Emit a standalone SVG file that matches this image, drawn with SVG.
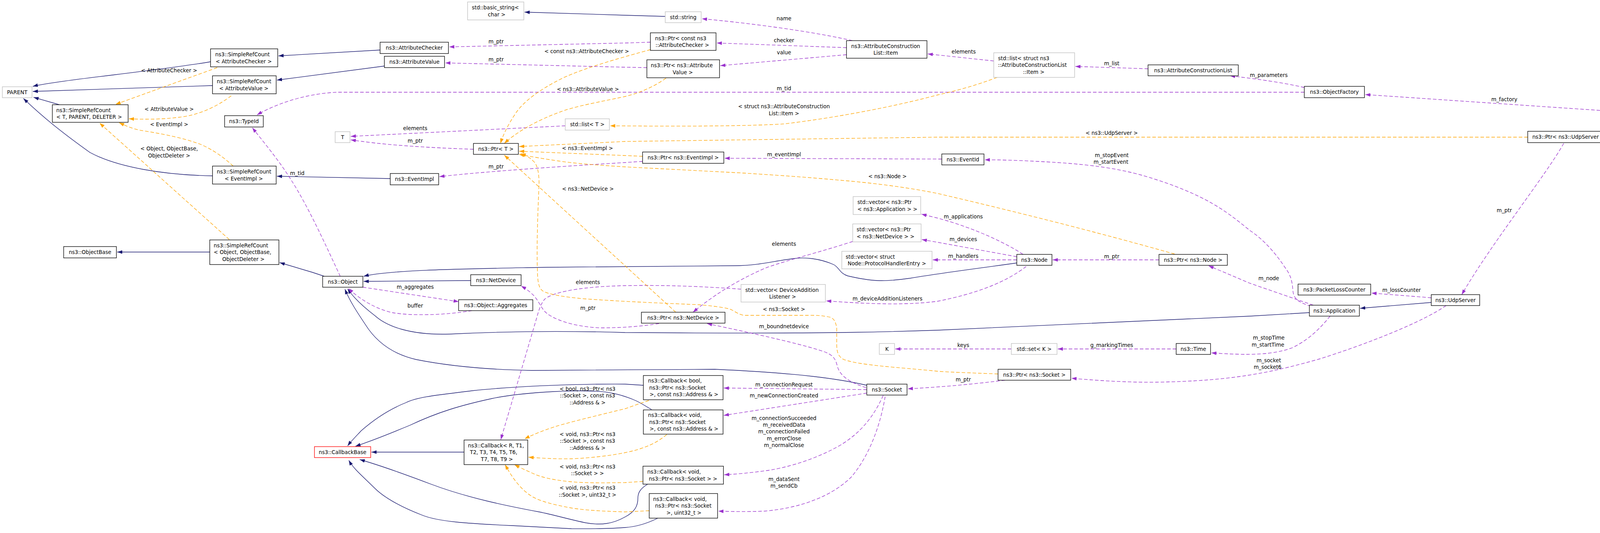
<svg xmlns="http://www.w3.org/2000/svg" width="4411" height="1364" viewBox="0 0 4411 1364">
<style>
text{font-family:"DejaVu Sans","Liberation Sans",sans-serif;font-size:13.33px;fill:#000}
.n rect{fill:#fff;stroke:#000;stroke-width:1.33}
.g rect{stroke:#bfbfbf}
.r rect{stroke:#ff0000}
.f rect{fill:#bfbfbf}
.c{text-anchor:middle}
#edges path{fill:none;stroke-width:1.33}
.inh{stroke:#191970}
.use{stroke:#9a32cd;stroke-dasharray:9,5}
.tpl{stroke:#ffa500;stroke-dasharray:9,5}
#edges path.inh{marker-end:url(#ab)}
#edges path.use{marker-end:url(#ap)}
#edges path.tpl{marker-end:url(#ao)}
</style>
<defs>
<marker id="ab" markerUnits="userSpaceOnUse" markerWidth="14" markerHeight="10" viewBox="0 0 14 10" refX="13" refY="5" orient="auto"><path d="M0,0.5 L13,5 L0,9.5 Z" fill="#191970"/></marker>
<marker id="ap" markerUnits="userSpaceOnUse" markerWidth="14" markerHeight="10" viewBox="0 0 14 10" refX="13" refY="5" orient="auto"><path d="M0,0.5 L13,5 L0,9.5 Z" fill="#9a32cd"/></marker>
<marker id="ao" markerUnits="userSpaceOnUse" markerWidth="14" markerHeight="10" viewBox="0 0 14 10" refX="13" refY="5" orient="auto"><path d="M0,0.5 L13,5 L0,9.5 Z" fill="#ffa500"/></marker>
</defs>
<rect width="4411" height="1364" fill="#fff"/>
<g id="edges">
<path class="inh" d="M539,158 C400,182 150,205 84,221"/>
<path class="inh" d="M544,219 L84,234"/>
<path class="inh" d="M152,268 L86,249"/>
<path class="inh" d="M544,450 C420,448 300,428 230,390 C160,340 110,300 60,252"/>
<path class="inh" d="M537,645 L300,645"/>
<path class="inh" d="M973,128 L713,143"/>
<path class="inh" d="M984,169 L709,205"/>
<path class="inh" d="M999,457 L709,451"/>
<path class="inh" d="M830,707 L800,697 L716,672"/>
<path class="inh" d="M1205,718 L931,720"/>
<path class="inh" d="M2603,673 C2480,690 2400,700 2330,712 C2260,722 2230,720 2170,706 C2150,700 2148,684 2134,677 C2100,662 2060,657 2030,662 C1980,668 1940,680 1880,680 L1400,684 C1200,688 1000,690 931,707"/>
<path class="inh" d="M3352,800 L3200,809 L2400,845 C2200,852 2000,854 1600,851 C1400,845 1250,850 1150,855 C1050,858 990,835 960,808 C930,785 905,762 890,739"/>
<path class="inh" d="M2219,986 C2150,970 2050,955 1830,945 L1361,948 C1250,946 1150,937 1065,920 C1000,905 960,870 935,830 C915,800 895,770 883,740"/>
<path class="inh" d="M1188,1157 L951,1157"/>
<path class="inh" d="M1647,986 L1600,983 C1450,982 1300,990 1208,1000 C1130,1010 1070,1015 1040,1030 C990,1050 950,1080 925,1102 C910,1118 898,1130 890,1141"/>
<path class="inh" d="M1668,1048 C1650,1038 1640,1030 1620,1022 C1590,1010 1560,1002 1520,1001 C1450,998 1330,1005 1259,1020 C1180,1037 1120,1055 1050,1088 C990,1113 940,1132 910,1142"/>
<path class="inh" d="M1658,1239 C1640,1250 1633,1260 1633,1275 C1633,1295 1625,1310 1600,1323 C1570,1340 1540,1345 1500,1338 C1460,1330 1420,1318 1380,1310 C1300,1295 1200,1275 1106,1240 C1040,1215 970,1190 921,1176"/>
<path class="inh" d="M1684,1326 C1660,1338 1630,1348 1600,1350 C1550,1354 1500,1353 1463,1353 C1400,1350 1350,1347 1310,1345 C1200,1340 1120,1335 1080,1318 C1020,1295 980,1270 960,1250 C930,1220 905,1200 893,1178"/>
<path class="inh" d="M3664,774 L3482,789"/>
<path class="inh" d="M1703,42 L1600,39 L1343,31"/>
<path class="use" d="M1665,108 L1600,110 L1150,120"/>
<path class="use" d="M1656,173 L1600,172 L1140,161"/>
<path class="use" d="M2182,104 C2100,85 1950,62 1797,48"/>
<path class="use" d="M2167,122 L1835,110"/>
<path class="use" d="M2167,140 L1844,168"/>
<path class="use" d="M2544,156 L2375,138"/>
<path class="use" d="M2939,176 L2753,170"/>
<path class="use" d="M3339,224 C3280,210 3200,200 3149,194"/>
<path class="use" d="M3339,236 L866,236 C800,238 720,258 658,294"/>
<path class="use" d="M4236,292 L3495,242"/>
<path class="use" d="M4231,313 L4102,337"/>
<path class="use" d="M4003,367 C3960,445 3820,620 3742,754"/>
<path class="use" d="M3664,762 L3511,750"/>
<path class="use" d="M3702,782 C3640,825 3500,880 3380,918 C3250,955 3150,975 2961,978 C2880,979 2800,973 2743,968"/>
<path class="use" d="M3405,809 C3380,840 3350,870 3308,890 C3260,908 3200,910 3101,903"/>
<path class="use" d="M3362,781 L3200,725 L3094,680"/>
<path class="use" d="M3356,784 C3330,775 3312,768 3310,745 C3308,720 3305,705 3290,685 C3260,640 3230,610 3200,590 C3150,550 3100,505 2961,460 C2880,433 2800,420 2655,413 C2600,410 2560,409 2521,409"/>
<path class="use" d="M2967,665 L2695,665"/>
<path class="use" d="M2619,651 C2580,625 2500,585 2400,558 L2359,548"/>
<path class="use" d="M2603,657 L2400,620 L2360,613"/>
<path class="use" d="M2603,665 L2388,665"/>
<path class="use" d="M2627,682 C2590,710 2530,745 2400,771 C2330,780 2250,780 2115,770"/>
<path class="use" d="M2183,618 C2100,645 2000,670 1957,687 C1900,712 1840,745 1774,799"/>
<path class="use" d="M1687,828 C1650,834 1600,839 1540,839 C1490,838 1430,825 1400,802 C1385,790 1380,770 1365,755 C1355,745 1345,738 1334,732"/>
<path class="use" d="M2217,992 C2180,980 2150,965 2143,935 C2138,915 2130,908 2110,900 C2050,880 1950,858 1810,828"/>
<path class="use" d="M2573,973 C2500,982 2420,990 2324,995"/>
<path class="use" d="M2219,997 L1853,993"/>
<path class="use" d="M2219,1006 L1853,1063"/>
<path class="use" d="M2261,1012 C2235,1070 2200,1110 2150,1140 C2080,1180 2000,1200 1957,1205 C1920,1210 1890,1213 1854,1215"/>
<path class="use" d="M2266,1015 C2255,1080 2230,1160 2180,1220 C2130,1270 2050,1300 1957,1308 C1910,1310 1870,1309 1839,1308"/>
<path class="use" d="M929,735 L1174,772"/>
<path class="use" d="M1208,795 C1150,805 1060,810 1004,800 C960,790 920,765 892,738"/>
<path class="use" d="M871,707 C835,630 790,530 745,460 C715,412 680,370 646,327"/>
<path class="use" d="M1212,382 C1100,378 1000,372 928,362 L898,358"/>
<path class="use" d="M1447,322 L898,349"/>
<path class="use" d="M1645,413 L1600,416 C1450,425 1250,438 1125,452"/>
<path class="use" d="M2411,407 L1855,405"/>
<path class="use" d="M1897,740 C1800,733 1700,729 1600,731 C1500,733 1420,745 1395,765 C1382,780 1378,800 1372,820 L1282,1125"/>
<path class="use" d="M2589,893 L2292,893"/>
<path class="use" d="M3011,893 L2708,893"/>
<path class="tpl" d="M556,173 L296,267"/>
<path class="tpl" d="M592,245 C560,270 510,295 459,300 C420,305 380,306 330,304"/>
<path class="tpl" d="M597,425 C570,400 540,380 510,368 C460,350 400,340 357,333 C335,328 318,320 305,314"/>
<path class="tpl" d="M587,613 L255,315"/>
<path class="tpl" d="M1665,127 C1600,145 1500,172 1440,200 C1380,230 1340,260 1320,290 C1300,320 1288,345 1281,367"/>
<path class="tpl" d="M1705,200 C1670,225 1630,240 1600,247 C1530,262 1470,272 1430,288 C1370,310 1320,340 1291,367"/>
<path class="tpl" d="M2553,198 C2500,218 2450,232 2400,243 C2300,270 2150,300 2008,317 C1900,324 1700,323 1562,322"/>
<path class="tpl" d="M3911,351 L2400,351 L1600,362 L1329,375"/>
<path class="tpl" d="M1645,400 L1600,398 L1329,387"/>
<path class="tpl" d="M3007,650 C2900,620 2700,565 2400,495 C2300,475 2200,465 2136,460 C2050,452 1950,446 1906,443 L1600,427 C1520,422 1470,418 1430,412 C1390,406 1360,401 1329,395"/>
<path class="tpl" d="M1730,799 L1291,397"/>
<path class="tpl" d="M2555,957 C2480,954 2420,952 2400,950 C2300,940 2200,935 2160,920 C2145,912 2142,900 2142,880 L2142,840 C2140,825 2135,815 2126,812 C2100,806 2080,807 2059,807 L1906,807 C1890,806 1878,793 1865,790 C1840,784 1800,781 1794,780 C1700,776 1600,772 1500,765 C1440,760 1405,753 1390,745 C1380,738 1377,725 1376,700 C1373,620 1378,520 1380,470 C1380,440 1375,420 1365,412 C1355,402 1345,397 1333,393"/>
<path class="tpl" d="M1661,1025 C1630,1035 1610,1043 1600,1046 C1530,1063 1460,1080 1420,1092 C1390,1102 1365,1112 1343,1123"/>
<path class="tpl" d="M1707,1112 C1685,1130 1665,1140 1640,1148 C1600,1162 1520,1172 1463,1174 C1420,1175 1380,1172 1353,1170"/>
<path class="tpl" d="M1646,1232 L1600,1235 C1540,1236 1500,1236 1463,1233 C1420,1229 1385,1222 1361,1210 C1345,1203 1330,1196 1317,1189"/>
<path class="tpl" d="M1662,1307 L1600,1310 C1540,1308 1500,1306 1463,1300 C1420,1292 1385,1284 1361,1270 C1330,1250 1310,1220 1293,1189"/>
<g class="c">
<text x="433" y="185">&lt; AttributeChecker &gt;</text>
<text x="433" y="284">&lt; AttributeValue &gt;</text>
<text x="433" y="323">&lt; EventImpl &gt;</text>
<text x="433" y="385">&lt; Object, ObjectBase,</text>
<text x="433" y="403">ObjectDeleter &gt;</text>
<text x="761" y="448">m_tid</text>
<text x="1270" y="111">m_ptr</text>
<text x="1502" y="136">&lt; const ns3::AttributeChecker &gt;</text>
<text x="1270" y="157">m_ptr</text>
<text x="1505" y="233">&lt; ns3::AttributeValue &gt;</text>
<text x="1063" y="333">elements</text>
<text x="1063" y="365">m_ptr</text>
<text x="1504" y="384">&lt; ns3::EventImpl &gt;</text>
<text x="1270" y="431">m_ptr</text>
<text x="1505" y="488">&lt; ns3::NetDevice &gt;</text>
<text x="1063" y="739">m_aggregates</text>
<text x="1063" y="787">buffer</text>
<text x="1505" y="727">elements</text>
<text x="1505" y="793">m_ptr</text>
<text x="1504" y="1000">&lt; bool, ns3::Ptr&lt; ns3</text>
<text x="1504" y="1017">::Socket &gt;, const ns3</text>
<text x="1504" y="1035">::Address &amp; &gt;</text>
<text x="1504" y="1116">&lt; void, ns3::Ptr&lt; ns3</text>
<text x="1504" y="1133">::Socket &gt;, const ns3</text>
<text x="1504" y="1151">::Address &amp; &gt;</text>
<text x="1504" y="1199">&lt; void, ns3::Ptr&lt; ns3</text>
<text x="1504" y="1216">::Socket &gt; &gt;</text>
<text x="1504" y="1253">&lt; void, ns3::Ptr&lt; ns3</text>
<text x="1504" y="1271">::Socket &gt;, uint32_t &gt;</text>
<text x="2007" y="52">name</text>
<text x="2007" y="108">checker</text>
<text x="2007" y="139">value</text>
<text x="2007" y="231">m_tid</text>
<text x="2007" y="277">&lt; struct ns3::AttributeConstruction</text>
<text x="2007" y="295">List::Item &gt;</text>
<text x="2007" y="400">m_eventImpl</text>
<text x="2272" y="456">&lt; ns3::Node &gt;</text>
<text x="2007" y="629">elements</text>
<text x="2272" y="769">m_deviceAdditionListeners</text>
<text x="2007" y="796">&lt; ns3::Socket &gt;</text>
<text x="2007" y="840">m_boundnetdevice</text>
<text x="2007" y="989">m_connectionRequest</text>
<text x="2007" y="1017">m_newConnectionCreated</text>
<text x="2007" y="1075">m_connectionSucceeded</text>
<text x="2007" y="1092">m_receivedData</text>
<text x="2007" y="1109">m_connectionFailed</text>
<text x="2007" y="1127">m_errorClose</text>
<text x="2007" y="1144">m_normalClose</text>
<text x="2007" y="1231">m_dataSent</text>
<text x="2007" y="1248">m_sendCb</text>
<text x="2467" y="137">elements</text>
<text x="2846" y="167">m_list</text>
<text x="2846" y="345">&lt; ns3::UdpServer &gt;</text>
<text x="2846" y="402">m_stopEvent</text>
<text x="2844" y="419">m_startEvent</text>
<text x="2466" y="559">m_applications</text>
<text x="2466" y="617">m_devices</text>
<text x="2466" y="660">m_handlers</text>
<text x="2846" y="661">m_ptr</text>
<text x="2466" y="888">keys</text>
<text x="2846" y="888">g_markingTimes</text>
<text x="2466" y="976">m_ptr</text>
<text x="3248" y="197">m_parameters</text>
<text x="3851" y="259">m_factory</text>
<text x="4179" y="313">m_server</text>
<text x="3851" y="543">m_ptr</text>
<text x="3248" y="717">m_node</text>
<text x="3588" y="747">m_lossCounter</text>
<text x="3248" y="869">m_stopTime</text>
<text x="3246" y="887">m_startTime</text>
<text x="3248" y="927">m_socket</text>
<text x="3245" y="944">m_socket6</text>
</g>
</g>
<g id="PARENT" class="n g"><rect x="6" y="222" width="76" height="28"/><text class="c" x="44" y="241">PARENT</text></g>
<g id="SRC_AttributeChecker" class="n"><rect x="539" y="125" width="172" height="46"/><text x="551" y="144">ns3::SimpleRefCount</text><text x="552" y="161.5">&lt; AttributeChecker &gt;</text></g>
<g id="SRC_AttributeValue" class="n"><rect x="544" y="194" width="163" height="46"/><text x="555" y="213">ns3::SimpleRefCount</text><text x="561" y="230.5">&lt; AttributeValue &gt;</text></g>
<g id="SRC_T_PARENT_DELETER" class="n"><rect x="134" y="268" width="194" height="45"/><text x="144" y="286.5">ns3::SimpleRefCount</text><text x="144" y="304">&lt; T, PARENT, DELETER &gt;</text></g>
<g id="TypeId" class="n"><rect x="575" y="296" width="99" height="29"/><text class="c" x="624.5" y="315">ns3::TypeId</text></g>
<g id="SRC_EventImpl" class="n"><rect x="544" y="425" width="163" height="46"/><text x="555" y="444">ns3::SimpleRefCount</text><text x="575" y="461.5">&lt; EventImpl &gt;</text></g>
<g id="ObjectBase" class="n"><rect x="163" y="631" width="135" height="29"/><text class="c" x="230.5" y="650">ns3::ObjectBase</text></g>
<g id="SRC_Object" class="n"><rect x="537" y="614" width="177" height="63"/><text x="547" y="632.7">ns3::SimpleRefCount</text><text x="547" y="650.2">&lt; Object, ObjectBase,</text><text x="569" y="667.7">ObjectDeleter &gt;</text></g>
<g id="basic_string" class="n g"><rect x="1197" y="5" width="144" height="46"/><text x="1208" y="24">std::basic_string&lt;</text><text x="1249" y="41.5">char &gt;</text></g>
<g id="AttributeChecker" class="n"><rect x="973" y="108" width="175" height="29"/><text class="c" x="1060.5" y="127">ns3::AttributeChecker</text></g>
<g id="AttributeValue" class="n"><rect x="984" y="144" width="154" height="29"/><text class="c" x="1061" y="163">ns3::AttributeValue</text></g>
<g id="T" class="n g"><rect x="858" y="337" width="38" height="28"/><text class="c" x="877" y="355.5">T</text></g>
<g id="PtrT" class="n"><rect x="1212" y="367" width="115" height="28"/><text class="c" x="1269.5" y="385.5">ns3::Ptr&lt; T &gt;</text></g>
<g id="listT" class="n g"><rect x="1447" y="304" width="113" height="29"/><text class="c" x="1503.5" y="323">std::list&lt; T &gt;</text></g>
<g id="EventImpl" class="n"><rect x="999" y="444" width="124" height="29"/><text class="c" x="1061" y="463">ns3::EventImpl</text></g>
<g id="Object" class="n"><rect x="826" y="707" width="103" height="28"/><text class="c" x="877.5" y="725.5">ns3::Object</text></g>
<g id="NetDevice" class="n"><rect x="1205" y="703" width="129" height="28"/><text class="c" x="1269.5" y="721.5">ns3::NetDevice</text></g>
<g id="Aggregates" class="n"><rect x="1174" y="767" width="190" height="28"/><text class="c" x="1269" y="785.5">ns3::Object::Aggregates</text></g>
<g id="CallbackBase" class="n r"><rect x="805" y="1143" width="144" height="28"/><text class="c" x="877" y="1161.5">ns3::CallbackBase</text></g>
<g id="CallbackR" class="n"><rect x="1188" y="1126" width="163" height="63"/><text x="1198" y="1144.7">ns3::Callback&lt; R, T1,</text><text x="1203" y="1162.2">T2, T3, T4, T5, T6,</text><text x="1231" y="1179.7">T7, T8, T9 &gt;</text></g>
<g id="string" class="n g"><rect x="1703" y="30" width="92" height="28"/><text class="c" x="1749" y="48.5">std::string</text></g>
<g id="PtrConstAC" class="n"><rect x="1665" y="84" width="168" height="45"/><text x="1677" y="102.5">ns3::Ptr&lt; const ns3</text><text x="1678" y="120">::AttributeChecker &gt;</text></g>
<g id="PtrAV" class="n"><rect x="1656" y="153" width="186" height="46"/><text x="1666" y="172">ns3::Ptr&lt; ns3::Attribute</text><text x="1722" y="189.5">Value &gt;</text></g>
<g id="Item" class="n"><rect x="2167" y="104" width="206" height="45"/><text x="2179" y="122.5">ns3::AttributeConstruction</text><text x="2236" y="140">List::Item</text></g>
<g id="PtrEventImpl" class="n"><rect x="1645" y="389" width="208" height="29"/><text class="c" x="1749" y="408">ns3::Ptr&lt; ns3::EventImpl &gt;</text></g>
<g id="vecApp" class="n g"><rect x="2184" y="503" width="173" height="46"/><text x="2195" y="522">std::vector&lt; ns3::Ptr</text><text x="2195" y="539.5">&lt; ns3::Application &gt; &gt;</text></g>
<g id="vecNetDevice" class="n g"><rect x="2183" y="573" width="175" height="46"/><text x="2193" y="592">std::vector&lt; ns3::Ptr</text><text x="2193" y="609.5">&lt; ns3::NetDevice &gt; &gt;</text></g>
<g id="vecPHE" class="n g"><rect x="2155" y="643" width="231" height="45"/><text x="2165" y="661.5">std::vector&lt; struct</text><text x="2170" y="679">Node::ProtocolHandlerEntry &gt;</text></g>
<g id="vecDAL" class="n g"><rect x="1897" y="728" width="216" height="45"/><text x="1908" y="746.5">std::vector&lt; DeviceAddition</text><text x="1969" y="764">Listener &gt;</text></g>
<g id="PtrNetDevice" class="n"><rect x="1642" y="799" width="214" height="28"/><text class="c" x="1749" y="817.5">ns3::Ptr&lt; ns3::NetDevice &gt;</text></g>
<g id="K" class="n g"><rect x="2251" y="879" width="39" height="28"/><text class="c" x="2270.5" y="897.5">K</text></g>
<g id="CallbackBool" class="n"><rect x="1647" y="961" width="204" height="62"/><text x="1659" y="979.2">ns3::Callback&lt; bool,</text><text x="1662" y="996.7">ns3::Ptr&lt; ns3::Socket</text><text x="1663" y="1014.2">&gt;, const ns3::Address &amp; &gt;</text></g>
<g id="CallbackVoidAddr" class="n"><rect x="1647" y="1049" width="204" height="62"/><text x="1659" y="1067.2">ns3::Callback&lt; void,</text><text x="1662" y="1084.7">ns3::Ptr&lt; ns3::Socket</text><text x="1663" y="1102.2">&gt;, const ns3::Address &amp; &gt;</text></g>
<g id="CallbackVoidSocket" class="n"><rect x="1646" y="1193" width="206" height="46"/><text x="1657" y="1212">ns3::Callback&lt; void,</text><text x="1661" y="1229.5">ns3::Ptr&lt; ns3::Socket &gt; &gt;</text></g>
<g id="CallbackVoidUint" class="n"><rect x="1662" y="1263" width="175" height="63"/><text x="1672" y="1281.7">ns3::Callback&lt; void,</text><text x="1677" y="1299.2">ns3::Ptr&lt; ns3::Socket</text><text x="1706" y="1316.7">&gt;, uint32_t &gt;</text></g>
<g id="Socket" class="n"><rect x="2219" y="983" width="103" height="28"/><text class="c" x="2270.5" y="1001.5">ns3::Socket</text></g>
<g id="listItem" class="n g"><rect x="2544" y="135" width="207" height="63"/><text x="2555" y="153.7">std::list&lt; struct ns3</text><text x="2555" y="171.2">::AttributeConstructionList</text><text x="2619" y="188.7">::Item &gt;</text></g>
<g id="AttributeConstructionList" class="n"><rect x="2939" y="166" width="231" height="28"/><text class="c" x="3054.5" y="184.5">ns3::AttributeConstructionList</text></g>
<g id="EventId" class="n"><rect x="2411" y="394" width="108" height="28"/><text class="c" x="2465" y="412.5">ns3::EventId</text></g>
<g id="Node" class="n"><rect x="2603" y="651" width="90" height="28"/><text class="c" x="2648" y="669.5">ns3::Node</text></g>
<g id="PtrNode" class="n"><rect x="2967" y="651" width="175" height="28"/><text class="c" x="3054.5" y="669.5">ns3::Ptr&lt; ns3::Node &gt;</text></g>
<g id="setK" class="n g"><rect x="2589" y="879" width="117" height="28"/><text class="c" x="2647.5" y="897.5">std::set&lt; K &gt;</text></g>
<g id="Time" class="n"><rect x="3011" y="879" width="88" height="28"/><text class="c" x="3055" y="897.5">ns3::Time</text></g>
<g id="PtrSocket" class="n"><rect x="2555" y="945" width="186" height="28"/><text class="c" x="2648" y="963.5">ns3::Ptr&lt; ns3::Socket &gt;</text></g>
<g id="ObjectFactory" class="n"><rect x="3339" y="221" width="154" height="29"/><text class="c" x="3416" y="240">ns3::ObjectFactory</text></g>
<g id="UdpServerHelper" class="n f"><rect x="4236" y="284" width="169" height="29"/><text class="c" x="4320.5" y="303">ns3::UdpServerHelper</text></g>
<g id="PtrUdpServer" class="n"><rect x="3911" y="336" width="209" height="29"/><text class="c" x="4015.5" y="355">ns3::Ptr&lt; ns3::UdpServer &gt;</text></g>
<g id="PacketLossCounter" class="n"><rect x="3323" y="727" width="186" height="28"/><text class="c" x="3416" y="745.5">ns3::PacketLossCounter</text></g>
<g id="Application" class="n"><rect x="3352" y="781" width="128" height="28"/><text class="c" x="3416" y="799.5">ns3::Application</text></g>
<g id="UdpServer" class="n"><rect x="3664" y="754" width="124" height="28"/><text class="c" x="3726" y="772.5">ns3::UdpServer</text></g>
</svg>
